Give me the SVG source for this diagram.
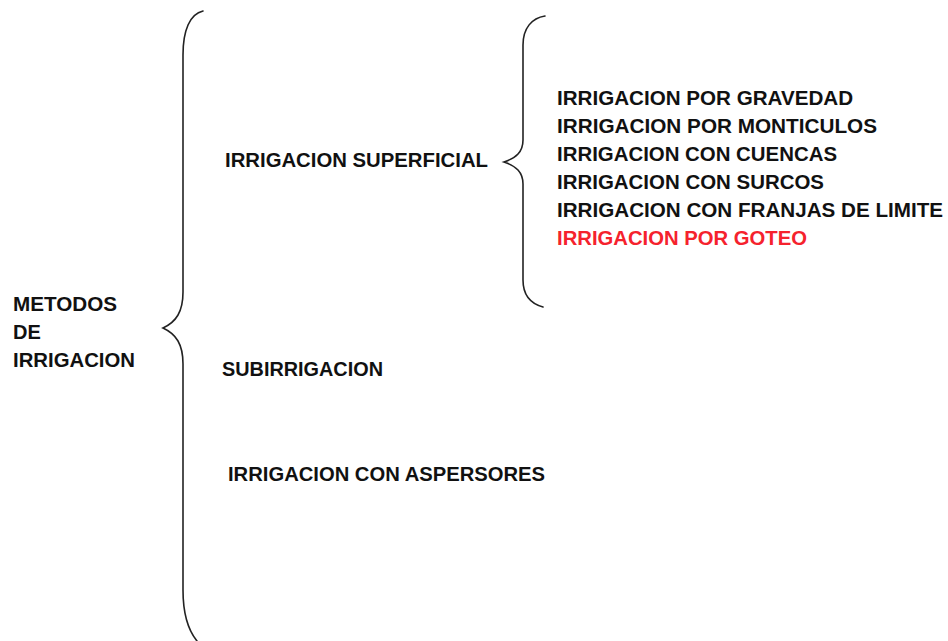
<svg xmlns="http://www.w3.org/2000/svg" width="948" height="641" viewBox="0 0 948 641">
<style>
.t{font-family:"Liberation Sans",Arial,sans-serif;font-weight:bold;font-size:20px;fill:#111}
.r{fill:#f5222d}
.b{fill:none;stroke:#222;stroke-width:1.6;stroke-linecap:round}
</style>
<rect width="948" height="641" fill="#fff"/>
<g id="connectors">
<path class="b" d="M203,11 C190,14 183,30 183,55 L183,292 C183,312 176,322 163,328 C176,334 183,344 183,364 L183,590 C183,615 188,630 197,641"/>
<path class="b" d="M545,16 C532,18 523,28 523,45 L523,140 C523,152 516,158 504,162 C516,166 523,172 523,184 L523,280 C523,296 532,304 543,307"/>
</g>
<g id="root"><text class="t" x="13" y="311" textLength="104" lengthAdjust="spacingAndGlyphs">METODOS</text><text class="t" x="13" y="339">DE</text><text class="t" x="13" y="367" textLength="122" lengthAdjust="spacingAndGlyphs">IRRIGACION</text></g>
<g id="superficial"><text class="t" x="225" y="167" textLength="263" lengthAdjust="spacingAndGlyphs">IRRIGACION SUPERFICIAL</text></g>
<g id="subirrigacion"><text class="t" x="222" y="376" textLength="161" lengthAdjust="spacingAndGlyphs">SUBIRRIGACION</text></g>
<g id="aspersores"><text class="t" x="228" y="481" textLength="317" lengthAdjust="spacingAndGlyphs">IRRIGACION CON ASPERSORES</text></g>
<g id="gravedad"><text class="t" x="557" y="105" textLength="296" lengthAdjust="spacingAndGlyphs">IRRIGACION POR GRAVEDAD</text></g>
<g id="monticulos"><text class="t" x="557" y="133" textLength="320" lengthAdjust="spacingAndGlyphs">IRRIGACION POR MONTICULOS</text></g>
<g id="cuencas"><text class="t" x="557" y="161" textLength="280" lengthAdjust="spacingAndGlyphs">IRRIGACION CON CUENCAS</text></g>
<g id="surcos"><text class="t" x="557" y="189" textLength="267" lengthAdjust="spacingAndGlyphs">IRRIGACION CON SURCOS</text></g>
<g id="franjas"><text class="t" x="557" y="217" textLength="386" lengthAdjust="spacingAndGlyphs">IRRIGACION CON FRANJAS DE LIMITE</text></g>
<g id="goteo"><text class="t r" x="557" y="245" textLength="250" lengthAdjust="spacingAndGlyphs">IRRIGACION POR GOTEO</text></g>
</svg>
